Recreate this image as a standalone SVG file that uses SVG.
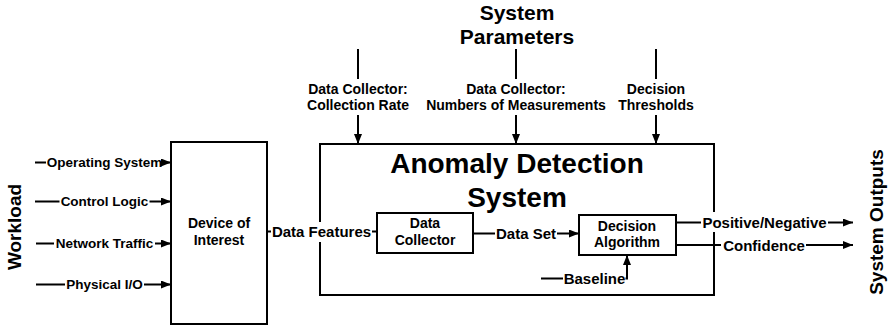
<svg xmlns="http://www.w3.org/2000/svg" width="889" height="326" viewBox="0 0 889 326">
  <style>
    text { font-family: "Liberation Sans", Arial, sans-serif; font-weight: bold; fill: #000; text-anchor: middle; }
    .box { fill: #fff; stroke: #000; stroke-width: 2; }
    .frame { fill: none; stroke: #000; stroke-width: 2; }
    .wire { fill: none; stroke: #000; stroke-width: 2; }
    .arrow { marker-end: url(#head); }
    .bg { fill: #fff; }
    .s13 { font-size: 13.5px; }
    .s14 { font-size: 14px; }
    .s15 { font-size: 15px; }
    .s19 { font-size: 19px; }
    .s21 { font-size: 21px; }
    .s28 { font-size: 28px; }
  </style>
  <defs>
    <marker id="head" markerUnits="userSpaceOnUse" markerWidth="10" markerHeight="8" refX="10" refY="4" orient="auto">
      <path d="M0,0 L10,4 L0,8 z" fill="#000"/>
    </marker>
  </defs>

  <rect width="889" height="326" fill="#fff"/>

  <!-- side captions -->
  <text id="workload" class="s19" transform="translate(21,227) rotate(-90)">Workload</text>
  <text id="system-outputs" class="s19" transform="translate(883,222) rotate(-90)">System Outputs</text>

  <!-- heading above the parameter inputs -->
  <g id="system-parameters">
    <text class="s21" x="517" y="20">System</text>
    <text class="s21" x="517" y="44">Parameters</text>
  </g>

  <!-- outer system frame -->
  <g id="anomaly-detection-system">
    <rect class="frame" x="320" y="144" width="394" height="151"/>
    <text class="s28" x="517" y="173">Anomaly Detection</text>
    <text class="s28" x="517" y="207">System</text>
  </g>

  <g id="device-of-interest">
    <rect class="box" x="171" y="142" width="96" height="182"/>
    <text class="s14" x="219" y="228">Device of</text>
    <text class="s14" x="219" y="245">Interest</text>
  </g>

  <g id="data-collector">
    <rect class="box" x="377" y="213" width="96" height="40"/>
    <text class="s14" x="425" y="228">Data</text>
    <text class="s14" x="425" y="245">Collector</text>
  </g>

  <g id="decision-algorithm">
    <rect class="box" x="579" y="215" width="97" height="40"/>
    <text class="s14" x="627" y="231">Decision</text>
    <text class="s14" x="627" y="247">Algorithm</text>
  </g>

  <!-- connectors -->
  <g id="connectors">
    <!-- workload inputs -->
    <path class="wire arrow" d="M35,162.5 H171"/>
    <path class="wire arrow" d="M35,201.5 H171"/>
    <path class="wire arrow" d="M36,243.5 H171"/>
    <path class="wire arrow" d="M36,284.5 H171"/>
    <!-- system parameters -->
    <path class="wire arrow" d="M358,49 V144"/>
    <path class="wire arrow" d="M516,49 V144"/>
    <path class="wire arrow" d="M656,49 V144"/>
    <!-- internal flow -->
    <path class="wire" d="M267,231.5 H377"/>
    <path class="wire arrow" d="M473,233.5 H579"/>
    <path class="wire arrow" d="M541,278.5 H627 V255"/>
    <!-- outputs -->
    <path class="wire arrow" d="M676,222.5 H853"/>
    <path class="wire arrow" d="M676,245 H853"/>
  </g>

  <!-- connector labels -->
  <g id="connector-labels">
    <rect class="bg" x="46" y="154" width="115" height="17"/>
    <text class="s13" x="104.5" y="167.3">Operating System</text>
    <rect class="bg" x="59.5" y="193" width="90" height="17"/>
    <text class="s13" x="104.5" y="206.3">Control Logic</text>
    <rect class="bg" x="54" y="235" width="101" height="17"/>
    <text class="s13" x="104.5" y="248.3">Network Traffic</text>
    <rect class="bg" x="65" y="276" width="79" height="17"/>
    <text class="s13" x="104.5" y="289.3">Physical I/O</text>

    <rect class="bg" x="305" y="79" width="106" height="36"/>
    <text class="s14" x="358" y="94">Data Collector:</text>
    <text class="s14" x="358" y="110">Collection Rate</text>
    <rect class="bg" x="421" y="79" width="190" height="36"/>
    <text class="s14" x="516" y="94">Data Collector:</text>
    <text class="s14" x="516" y="110">Numbers of Measurements</text>
    <rect class="bg" x="616" y="79" width="80" height="36"/>
    <text class="s14" x="656" y="94">Decision</text>
    <text class="s14" x="656" y="110">Thresholds</text>

    <rect class="bg" x="271" y="222" width="101" height="20"/>
    <text class="s15" x="321.5" y="237">Data Features</text>
    <rect class="bg" x="495" y="224" width="62" height="19"/>
    <text class="s15" x="526" y="239">Data Set</text>
    <rect class="bg" x="563" y="269" width="62.5" height="18"/>
    <text class="s15" x="594.5" y="283.5">Baseline</text>
    <rect class="bg" x="701" y="212" width="127" height="20"/>
    <text class="s15" x="764.5" y="228">Positive/Negative</text>
    <rect class="bg" x="721" y="236" width="85" height="18"/>
    <text class="s15" x="764" y="250.5">Confidence</text>
  </g>
</svg>
